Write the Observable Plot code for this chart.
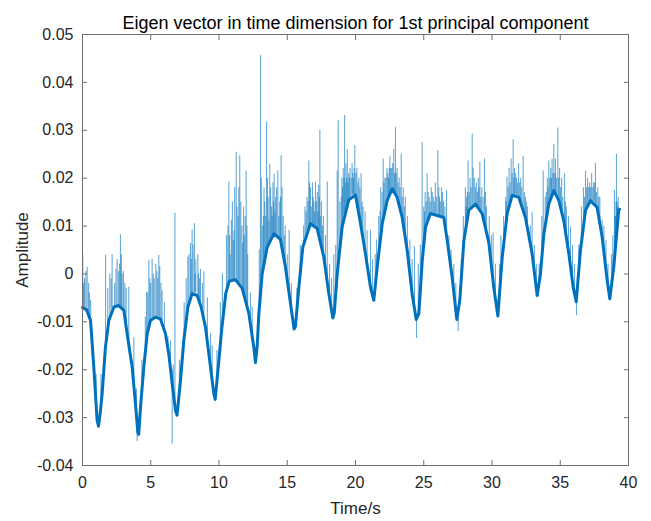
<!DOCTYPE html>
<html>
<head>
<meta charset="utf-8">
<script src="https://cdn.jsdelivr.net/npm/d3@7"></script>
<script src="https://cdn.jsdelivr.net/npm/@observablehq/plot@0.6"></script>
<style>
  html, body { margin: 0; padding: 0; background: #fff; }
  #chart { width: 651px; height: 521px; }
</style>
</head>
<body>
<div id="chart"></div>
<script>
const titleText = "Eigen vector in time dimension for 1st principal component";
const xLabel = "Time/s";
const yLabel = "Amplitude";
const xTicks = [0, 5, 10, 15, 20, 25, 30, 35, 40];
const yTicks = [-0.04, -0.03, -0.02, -0.01, 0, 0.01, 0.02, 0.03, 0.04, 0.05];

// core (dense) trace: [time, amplitude]
const core = [
  [0.0,-0.007],[0.3,-0.0075],[0.59,-0.0097],[0.83,-0.0195],[1.07,-0.0306],[1.17,-0.0318],[1.3,-0.029],[1.44,-0.025],
  [1.68,-0.0153],[1.93,-0.0097],[2.3,-0.0069],[2.66,-0.0066],[3.03,-0.0076],[3.27,-0.0125],[3.64,-0.0195],[3.88,-0.0271],
  [4.05,-0.033],[4.12,-0.0335],[4.25,-0.0278],[4.49,-0.0195],[4.74,-0.0125],[4.98,-0.0097],[5.35,-0.009],[5.71,-0.0094],
  [6.08,-0.0125],[6.32,-0.0167],[6.57,-0.0229],[6.81,-0.0285],[6.93,-0.0295],[7.18,-0.0222],[7.42,-0.0139],[7.72,-0.0069],
  [8.03,-0.0041],[8.4,-0.0045],[8.69,-0.0069],[9.01,-0.0111],[9.38,-0.0195],[9.62,-0.025],[9.72,-0.0262],[9.99,-0.0181],
  [10.2,-0.0115],[10.5,-0.004],[10.75,-0.0015],[11.2,-0.0012],[11.7,-0.003],[12.19,-0.0083],[12.55,-0.0153],[12.67,-0.0185],
  [12.8,-0.015],[12.92,-0.0083],[13.16,0.0],[13.53,0.0056],[14.02,0.0084],[14.5,0.0072],[14.87,0.0014],[15.24,-0.0062],
  [15.5,-0.0115],[15.6,-0.011],[15.85,-0.0028],[16.14,0.0056],[16.7,0.0105],[17.19,0.0095],[17.68,0.0035],[18.05,-0.0042],
  [18.34,-0.0092],[18.45,-0.008],[18.66,0.0],[19.02,0.0098],[19.51,0.0155],[20.0,0.0165],[20.37,0.0105],[20.73,0.0042],
  [21.1,-0.0028],[21.34,-0.0055],[21.59,0.0014],[21.96,0.0105],[22.32,0.0153],[22.69,0.0178],[23.05,0.016],[23.42,0.0118],
  [23.79,0.0049],[24.15,-0.0042],[24.45,-0.0095],[24.64,-0.0083],[24.89,0.0028],[25.13,0.0098],[25.49,0.0126],[25.98,0.0122],
  [26.47,0.0118],[26.72,0.007],[27.08,-0.0007],[27.42,-0.0095],[27.64,-0.0055],[27.94,0.007],[28.3,0.0133],[28.79,0.0146],
  [29.28,0.0126],[29.77,0.0065],[30.13,-0.0028],[30.43,-0.0088],[30.75,0.0035],[31.11,0.0126],[31.48,0.0164],[31.96,0.016],
  [32.45,0.0118],[32.94,0.0042],[33.31,-0.0045],[33.55,0.0],[33.8,0.0084],[34.16,0.0146],[34.53,0.0174],[34.9,0.0153],
  [35.26,0.0111],[35.63,0.0042],[35.95,-0.0028],[36.17,-0.0058],[36.48,0.0049],[36.85,0.0133],[37.22,0.0153],[37.7,0.0139],
  [38.07,0.0077],[38.44,-0.0014],[38.63,-0.0052],[38.92,0.0014],[39.28,0.0133],[39.35,0.0135]
];

// tall spikes: [time, from, to]
const spikes = [
  [0.02,-0.007,0.0039],[0.15,-0.0075,-0.001],[0.34,-0.0075,0.0014],[0.45,-0.008,-0.002],[0.6,-0.0097,-0.0055],
  [1.0,-0.028,-0.021],[1.35,-0.028,-0.021],[1.69,-0.0153,0.0039],[1.85,-0.011,-0.003],[2.0,-0.009,0.0],
  [2.17,-0.007,0.004],[2.35,-0.007,-0.002],[2.54,-0.0067,0.003],[2.65,-0.0066,0.0005],[2.78,-0.007,0.0082],
  [2.9,-0.0072,0.0],[3.1,-0.009,-0.002],[3.39,-0.014,-0.0028],[3.76,-0.023,-0.0133],[3.95,-0.03,-0.024],[4.0,-0.032,-0.035],
  [4.35,-0.025,-0.018],[4.6,-0.016,-0.009],[4.69,-0.014,-0.0038],[4.86,-0.011,0.0028],[5.0,-0.0097,-0.002],
  [5.1,-0.0095,0.003],[5.25,-0.009,-0.001],[5.45,-0.009,0.0005],[5.59,-0.009,0.0039],[5.83,-0.0097,-0.0035],
  [6.0,-0.0115,-0.006],[6.26,-0.016,-0.013],[6.45,-0.02,-0.014],[6.57,-0.02,-0.0355],[6.65,-0.025,-0.019],[6.77,-0.028,0.0127],
  [7.1,-0.025,-0.018],[7.45,-0.013,-0.006],[7.6,-0.009,-0.001],[7.72,-0.007,0.0035],[7.91,-0.005,0.0064],
  [8.03,-0.0041,0.0091],[8.2,-0.004,0.0105],[8.3,-0.004,0.003],[8.5,-0.005,0.0],[8.64,-0.006,0.001],
  [8.89,-0.009,0.0004],[9.15,-0.013,-0.005],[9.38,-0.0195,-0.0125],[9.5,-0.022,-0.015],
  [9.85,-0.022,-0.016],[10.1,-0.014,-0.006],[10.25,-0.01,0.0],[10.4,-0.007,-0.0041],[10.55,-0.004,0.008],
  [10.72,-0.0015,0.0192],[10.82,-0.0015,0.004],[10.91,-0.0013,0.0112],[11.05,-0.0012,0.007],[11.15,-0.0012,0.018],
  [11.26,-0.0012,0.0254],[11.4,-0.002,0.012],[11.52,-0.002,0.0247],[11.6,-0.0025,0.015],[11.74,-0.003,0.0064],
  [11.85,-0.005,0.008],[11.99,-0.006,0.0215],[12.1,-0.008,0.004],[12.3,-0.011,-0.004],[12.43,-0.014,-0.0069],
  [12.95,-0.008,0.005],[13.04,-0.006,0.0456],[13.1,-0.003,0.02],[13.25,0.002,0.012],[13.35,0.004,0.015],
  [13.48,0.005,0.0317],[13.6,0.006,0.016],[13.72,0.007,0.0229],[13.85,0.008,0.014],[13.95,0.008,0.019],
  [14.04,0.0084,0.0208],[14.15,0.008,0.016],[14.31,0.0078,0.0215],[14.45,0.0074,0.015],[14.55,0.007,0.0247],
  [14.7,0.004,0.012],[14.85,0.0015,0.01],[15.0,-0.002,0.004],[15.14,-0.004,0.0091],[15.3,-0.007,-0.002],
  [15.7,-0.008,-0.003],[15.95,0.0,0.006],[16.3,0.007,0.014],[16.45,0.009,0.016],[16.58,0.0098,0.0236],
  [16.7,0.0105,0.018],[16.85,0.0103,0.019],[16.95,0.01,0.015],[17.07,0.0097,0.0192],[17.2,0.0095,0.017],
  [17.3,0.009,0.0185],[17.39,0.008,0.03],[17.5,0.0065,0.015],[17.65,0.004,0.012],[17.8,0.001,0.008],
  [17.93,-0.001,0.0192],[18.1,-0.005,0.002],[18.25,-0.008,-0.001],[18.41,-0.008,0.004],
  [18.55,-0.004,0.006],[18.66,0.0,0.0215],[18.73,0.002,0.032],[18.85,0.006,0.015],[19.0,0.0098,0.02],
  [19.1,0.012,0.022],[19.2,0.013,0.0331],[19.3,0.014,0.023],[19.4,0.015,0.026],[19.5,0.0155,0.021],
  [19.6,0.016,0.022],[19.75,0.0165,0.023],[19.85,0.0165,0.02],[19.95,0.0165,0.0268],[20.1,0.015,0.022],
  [20.25,0.013,0.02],[20.41,0.01,0.0209],[20.55,0.007,0.014],[20.7,0.005,0.013],[20.85,0.002,0.009],
  [21.1,-0.0028,0.0091],[21.25,-0.005,0.003],
  [21.45,-0.002,0.004],[21.54,0.0005,0.0071],[21.7,0.004,0.012],[21.85,0.008,0.018],[22.03,0.011,0.024],
  [22.15,0.013,0.02],[22.3,0.015,0.022],[22.42,0.016,0.02],[22.52,0.017,0.0246],[22.65,0.0178,0.022],
  [22.8,0.0175,0.026],[22.93,0.017,0.0306],[23.05,0.016,0.022],[23.2,0.0145,0.02],[23.35,0.013,0.025],
  [23.5,0.01,0.018],[23.65,0.008,0.016],[23.8,0.005,0.012],[23.98,0.001,0.0071],[24.15,-0.004,0.003],
  [24.32,-0.007,0.0057],[24.47,-0.009,-0.0135],[24.6,-0.0085,0.002],
  [24.75,-0.003,0.006],[24.88,0.003,0.0275],[25.0,0.006,0.014],[25.1,0.009,0.017],[25.25,0.011,0.0209],
  [25.4,0.012,0.016],[25.55,0.0126,0.018],[25.7,0.0125,0.016],[25.85,0.0123,0.019],[26.03,0.0122,0.0257],
  [26.15,0.012,0.016],[26.3,0.012,0.018],[26.45,0.0118,0.015],[26.67,0.008,0.0174],[26.85,0.004,0.008],
  [27.0,0.001,0.005],[27.2,-0.004,0.002],[27.35,-0.008,-0.002],[27.52,-0.008,-0.012],
  [27.75,-0.002,0.003],[27.9,0.006,0.012],[28.05,0.009,0.018],[28.15,0.011,0.016],[28.25,0.012,0.0236],
  [28.4,0.0135,0.02],[28.55,0.014,0.0292],[28.7,0.0145,0.02],[28.85,0.0146,0.019],[29.0,0.014,0.02],
  [29.11,0.0135,0.0233],[29.25,0.013,0.018],[29.45,0.011,0.024],[29.6,0.009,0.014],[29.8,0.006,0.012],
  [29.95,0.002,0.008],[30.08,-0.001,0.0085],[30.25,-0.005,0.002],
  [30.55,-0.004,0.002],[30.65,0.0,0.008],[30.85,0.006,0.012],[31.0,0.01,0.016],[31.1,0.012,0.0202],
  [31.25,0.014,0.022],[31.4,0.0155,0.024],[31.55,0.0162,0.028],[31.65,0.0163,0.022],[31.8,0.0162,0.02],
  [31.95,0.016,0.023],[32.1,0.015,0.02],[32.28,0.0135,0.0246],[32.45,0.0118,0.016],[32.6,0.009,0.014],
  [32.8,0.006,0.01],[32.94,0.004,0.0128],[33.1,0.001,0.006],[33.25,-0.003,0.002],
  [33.45,-0.003,0.002],[33.65,0.003,0.012],[33.75,0.007,0.0215],[33.9,0.01,0.016],[34.05,0.013,0.02],
  [34.16,0.0146,0.0236],[34.3,0.016,0.022],[34.4,0.017,0.024],[34.53,0.0174,0.0271],[34.65,0.017,0.024],
  [34.82,0.016,0.0305],[34.95,0.0152,0.022],[35.1,0.013,0.02],[35.31,0.01,0.0209],[35.45,0.008,0.014],
  [35.6,0.005,0.012],[35.75,0.002,0.0098],[35.9,-0.002,0.006],[36.05,-0.004,0.002],[36.19,-0.0058,-0.0087],
  [36.35,0.001,0.006],[36.55,0.007,0.014],[36.7,0.011,0.018],[36.85,0.0133,0.0215],[37.0,0.0145,0.02],
  [37.15,0.015,0.019],[37.3,0.0152,0.021],[37.45,0.015,0.019],[37.58,0.0145,0.0231],[37.75,0.0135,0.018],
  [37.9,0.011,0.016],[38.07,0.0077,0.0112],[38.2,0.005,0.01],[38.35,0.001,0.007],[38.5,-0.003,0.002],
  [38.75,-0.003,0.004],[38.85,-0.001,0.008],[38.97,0.003,0.0174],[39.05,0.006,0.012],[39.12,0.009,0.025],
  [39.2,0.011,0.014]
];

// short dense fur near the core band: [time, from, to]
const fur = [
  [0.08,-0.007,-0.002],[0.25,-0.0075,0.0005],[0.5,-0.009,-0.004],[2.1,-0.0075,-0.001],[2.45,-0.0068,0.001],
  [2.72,-0.007,0.002],[2.85,-0.0072,0.004],[3.0,-0.0076,0.0005],[3.2,-0.011,-0.003],
  [4.78,-0.012,-0.004],[4.93,-0.0098,-0.001],[5.18,-0.0093,0.0],[5.37,-0.009,0.002],[5.52,-0.009,-0.001],
  [5.66,-0.0093,0.0015],[5.75,-0.0095,-0.002],
  [7.8,-0.006,0.004],[7.97,-0.0045,0.003],[8.1,-0.004,0.006],[8.25,-0.004,0.0],[8.45,-0.0045,0.004],
  [8.58,-0.0055,-0.001],[8.78,-0.0075,-0.002],
  [10.65,-0.002,0.01],[10.78,-0.0015,0.008],[10.98,-0.0012,0.015],[11.1,-0.0012,0.009],[11.32,-0.0015,0.014],
  [11.45,-0.002,0.018],[11.68,-0.003,0.01],[11.8,-0.004,0.014],[11.92,-0.005,0.012],[12.05,-0.007,0.01],
  [13.2,0.001,0.01],[13.3,0.003,0.018],[13.42,0.005,0.012],[13.55,0.006,0.02],[13.66,0.0065,0.011],
  [13.78,0.0075,0.018],[13.9,0.008,0.012],[14.0,0.0084,0.015],[14.1,0.0082,0.013],[14.22,0.008,0.018],
  [14.38,0.0076,0.012],[14.5,0.0072,0.016],[14.62,0.006,0.018],[14.78,0.003,0.008],
  [16.2,0.006,0.01],[16.38,0.008,0.013],[16.52,0.0095,0.015],[16.63,0.01,0.019],[16.77,0.0105,0.014],
  [16.9,0.0102,0.016],[17.0,0.0098,0.013],[17.13,0.0096,0.015],[17.25,0.0093,0.013],[17.35,0.0085,0.016],
  [17.45,0.007,0.012],[17.58,0.005,0.01],
  [18.95,0.008,0.016],[19.05,0.011,0.018],[19.15,0.0125,0.02],[19.25,0.0135,0.019],[19.35,0.0145,0.02],
  [19.45,0.015,0.019],[19.55,0.0157,0.02],[19.68,0.0162,0.02],[19.8,0.0165,0.021],[19.9,0.0165,0.022],
  [20.03,0.016,0.021],[20.18,0.014,0.019],[20.32,0.0115,0.018],[20.48,0.009,0.015],
  [21.8,0.007,0.013],[21.95,0.0105,0.017],[22.08,0.012,0.019],[22.23,0.014,0.02],[22.36,0.0155,0.021],
  [22.47,0.0165,0.022],[22.58,0.0175,0.022],[22.72,0.0178,0.023],[22.86,0.0173,0.021],[22.98,0.0165,0.021],
  [23.12,0.0155,0.019],[23.27,0.014,0.018],[23.42,0.0118,0.016],[23.58,0.009,0.014],
  [25.05,0.008,0.013],[25.18,0.01,0.015],[25.32,0.0115,0.017],[25.47,0.0125,0.015],[25.62,0.0126,0.017],
  [25.78,0.0124,0.015],[25.92,0.0122,0.016],[26.1,0.0121,0.018],[26.22,0.012,0.015],[26.38,0.0119,0.017],
  [26.55,0.011,0.014],
  [28.1,0.01,0.014],[28.2,0.0115,0.017],[28.33,0.013,0.017],[28.47,0.0138,0.018],[28.62,0.0142,0.022],
  [28.78,0.0146,0.018],[28.93,0.0143,0.017],[29.05,0.0138,0.018],[29.18,0.0132,0.016],[29.35,0.012,0.016],
  [29.52,0.01,0.017],
  [31.05,0.011,0.015],[31.18,0.013,0.018],[31.32,0.015,0.019],[31.47,0.016,0.021],[31.6,0.0163,0.02],
  [31.73,0.0163,0.021],[31.88,0.0161,0.019],[32.03,0.0155,0.019],[32.18,0.0145,0.018],[32.37,0.0125,0.017],
  [32.52,0.0105,0.015],
  [33.98,0.012,0.017],[34.1,0.014,0.018],[34.23,0.0153,0.02],[34.35,0.0165,0.02],[34.47,0.0172,0.021],
  [34.6,0.0172,0.021],[34.72,0.0165,0.02],[34.88,0.0155,0.02],[35.02,0.014,0.018],[35.18,0.012,0.016],
  [35.38,0.009,0.015],
  [36.78,0.012,0.016],[36.93,0.014,0.018],[37.08,0.015,0.018],[37.22,0.0153,0.018],[37.38,0.0151,0.018],
  [37.52,0.0148,0.019],[37.65,0.014,0.017],[37.82,0.0125,0.016],
  [39.0,0.005,0.012],[39.08,0.008,0.015],[39.16,0.01,0.015],[39.25,0.012,0.016]
];

const coreRows = core.map(([t, v]) => ({t, v}));
const spikeRows = spikes.concat(fur).map(([t, lo, hi]) => ({t, lo, hi}));
const yFmt = d => d === 0 ? "0" : d.toFixed(2);
const lineColor = "#0072BD";
const axisGray = "#6f6f6f";

const chart = Plot.plot({
  width: 651,
  height: 521,
  marginLeft: 82,
  marginRight: 23,
  marginTop: 34,
  marginBottom: 56,
  style: {fontFamily: "'Liberation Sans', Arial, sans-serif", fontSize: "16px", color: "#262626", background: "#fff"},
  x: {domain: [0, 40]},
  y: {domain: [-0.04, 0.05]},
  marks: [
    Plot.ruleX(spikeRows, {x: "t", y1: "lo", y2: "hi", stroke: lineColor, strokeOpacity: 0.6, strokeWidth: 1.1}),
    Plot.line(coreRows, {x: "t", y: "v", stroke: lineColor, strokeWidth: 3, strokeLinejoin: "round"}),
    Plot.frame({stroke: axisGray, strokeWidth: 1}),
    Plot.axisX({anchor: "bottom", ticks: xTicks, tickSize: -5, tickPadding: 16, stroke: axisGray, fill: "#262626", fontSize: 16, label: null, tickFormat: d => String(d)}),
    Plot.axisX({anchor: "top", ticks: xTicks, tickSize: -5, stroke: axisGray, label: null, tickFormat: () => ""}),
    Plot.axisY({anchor: "left", ticks: yTicks, tickSize: -5, tickPadding: 14, stroke: axisGray, fill: "#262626", fontSize: 16, label: null, tickFormat: yFmt}),
    Plot.axisY({anchor: "right", ticks: yTicks, tickSize: -5, stroke: axisGray, label: null, tickFormat: () => ""}),
    Plot.text([titleText], {text: d => d, frameAnchor: "top", textAnchor: "middle", lineAnchor: "middle", dy: -10.8, fontSize: 18, fill: "#000"}),
    Plot.text([xLabel], {text: d => d, frameAnchor: "bottom", textAnchor: "middle", lineAnchor: "middle", dy: 43, fontSize: 17, fill: "#262626"}),
    Plot.text([yLabel], {text: d => d, frameAnchor: "left", textAnchor: "middle", lineAnchor: "middle", dx: -60, rotate: -90, fontSize: 17, fill: "#262626"})
  ]
});
document.getElementById("chart").appendChild(chart);
</script>
</body>
</html>
